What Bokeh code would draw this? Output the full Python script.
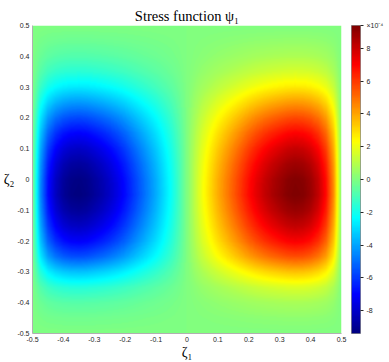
import numpy as np
from bokeh.plotting import figure
from bokeh.models import (Range1d, LinearColorMapper, ColorBar, FixedTicker,
                          CustomJSTickFormatter, LinearAxis)
from bokeh.embed import file_html
from bokeh.resources import INLINE

# ---- data ----
# profile of psi along zeta1 (through the peak row), normalised, for zeta1 >= 0
ZETA1_SAMPLES = [0.000, 0.025, 0.050, 0.075, 0.100, 0.125, 0.150, 0.175, 0.200, 0.225,
                 0.250, 0.275, 0.300, 0.325, 0.350, 0.375, 0.400, 0.425, 0.450, 0.475, 0.500]
F_VALUES = [0.00, 0.12, 0.23, 0.32, 0.41, 0.49, 0.57, 0.65, 0.73, 0.80,
            0.86, 0.91, 0.95, 0.985, 1.00, 0.99, 0.95, 0.87, 0.73, 0.47, 0.00]
# profile of psi along zeta2 (through the peak column), normalised
ZETA2_SAMPLES = [-0.50, -0.45, -0.40, -0.35, -0.30, -0.25, -0.20, -0.15, -0.10, -0.05,
                 0.00, 0.05, 0.10, 0.15, 0.20, 0.25, 0.30, 0.35, 0.40, 0.45, 0.50]
G_VALUES = [0.00, 0.03, 0.08, 0.18, 0.37, 0.60, 0.76, 0.87, 0.95, 1.00,
            0.99, 0.94, 0.86, 0.75, 0.61, 0.45, 0.29, 0.17, 0.09, 0.04, 0.00]
PSI_PEAK = 9.4          # in units of 1e-4
CLIM = [-9.4, 9.4]      # colour limits, units of 1e-4
AXIS_TICKS = [-0.5, -0.4, -0.3, -0.2, -0.1, 0.0, 0.1, 0.2, 0.3, 0.4, 0.5]
CB_TICKS = [-8, -6, -4, -2, 0, 2, 4, 6, 8]
TITLE = "Stress function ψ₁"
XLABEL = "ζ₁"
YLABEL = "ζ₂"
CB_EXPONENT = "×10⁻⁴"

# ---- build the field table for the image glyph ----
W, H = 389, 362
BL, BT, FW, FH = 32, 25, 309, 308
NX, NY = FW, FH
xs = -0.5 + (np.arange(NX) + 0.5) / NX
ys = -0.5 + (np.arange(NY) + 0.5) / NY
fx = np.sign(xs) * np.interp(np.abs(xs), ZETA1_SAMPLES, F_VALUES)
gy = np.interp(ys, ZETA2_SAMPLES, G_VALUES)
psi = PSI_PEAK * np.outer(gy, fx)

# jet palette
def jet(n=256):
    cols = []
    for i in range(n):
        t = i / (n - 1)
        r = min(max(1.5 - abs(4 * t - 3), 0), 1)
        g = min(max(1.5 - abs(4 * t - 2), 0), 1)
        b = min(max(1.5 - abs(4 * t - 1), 0), 1)
        cols.append("#%02x%02x%02x" % (int(round(r * 255)), int(round(g * 255)), int(round(b * 255))))
    return cols

mapper = LinearColorMapper(palette=jet(256), low=CLIM[0], high=CLIM[1])

p = figure(width=W, height=H,
           x_range=Range1d(-0.5, 0.5), y_range=Range1d(-0.5, 0.5),
           output_backend="svg", toolbar_location=None, title=TITLE,
           min_border_left=BL, min_border_top=BT,
           min_border_right=W - BL - FW, min_border_bottom=H - BT - FH)
p.image(image=[psi], x=-0.5, y=-0.5, dw=1, dh=1, color_mapper=mapper)

p.title.align = "center"
p.title.text_font = "Liberation Serif"
p.title.text_font_size = "14.5px"
p.title.text_font_style = "normal"
p.title.text_color = "black"
p.title.standoff = 4
p.title.offset = 0

p.outline_line_color = None
p.grid.visible = False
p.background_fill_color = "white"

fmt = CustomJSTickFormatter(code="return Math.abs(tick) < 1e-9 ? '0' : tick.toFixed(1);")
for ax in (p.xaxis[0], p.yaxis[0]):
    ax.ticker = FixedTicker(ticks=AXIS_TICKS)
    ax.formatter = fmt
    ax.major_label_text_font = "Liberation Sans"
    ax.major_label_text_font_size = "7px"
    ax.major_label_text_color = "#262626"
    ax.axis_line_color = "#b0b0b0"
    ax.major_tick_in = 0
    ax.major_tick_out = 0
    ax.minor_tick_line_color = None
    ax.axis_label_text_font = "Liberation Serif"
    ax.axis_label_text_font_style = "normal"
    ax.axis_label_text_color = "black"
p.xaxis.major_label_standoff = 3
p.yaxis.major_label_standoff = 3
p.xaxis.axis_label = XLABEL
p.xaxis.axis_label_text_font_size = "14px"
p.xaxis.axis_label_standoff = 0
p.yaxis.axis_label = YLABEL
p.yaxis.axis_label_text_font_size = "14px"
p.yaxis.axis_label_orientation = "horizontal"
p.yaxis.axis_label_standoff = 0

# spacer between frame and colour bar
spacer = LinearAxis(ticker=FixedTicker(ticks=[0]), axis_line_color=None,
                    major_tick_out=10, major_tick_in=0, major_tick_line_color=None,
                    minor_tick_line_color=None, major_label_text_font_size="1px",
                    major_label_text_alpha=0, major_label_standoff=0)
p.add_layout(spacer, "right")

# colour bar; the scale exponent is shown as the label at the top of the bar
cb_fmt = CustomJSTickFormatter(args=dict(top=CLIM[1], expo=CB_EXPONENT),
                               code="return Math.abs(tick - top) < 1e-9 ? expo : tick.toFixed(0);")
cb = ColorBar(color_mapper=mapper, ticker=FixedTicker(ticks=CB_TICKS + [CLIM[1]]),
              formatter=cb_fmt,
              width=9, height=FH, padding=0, margin=0,
              major_label_text_font="Liberation Sans", major_label_text_font_size="7px",
              major_label_text_color="#262626",
              major_tick_out=3, major_tick_in=0, major_tick_line_color="#262626",
              label_standoff=3, bar_line_color="#555555", bar_line_width=0.5,
              background_fill_color=None)
p.add_layout(cb, "right")

open("out.html", "w").write(file_html(p, INLINE))
